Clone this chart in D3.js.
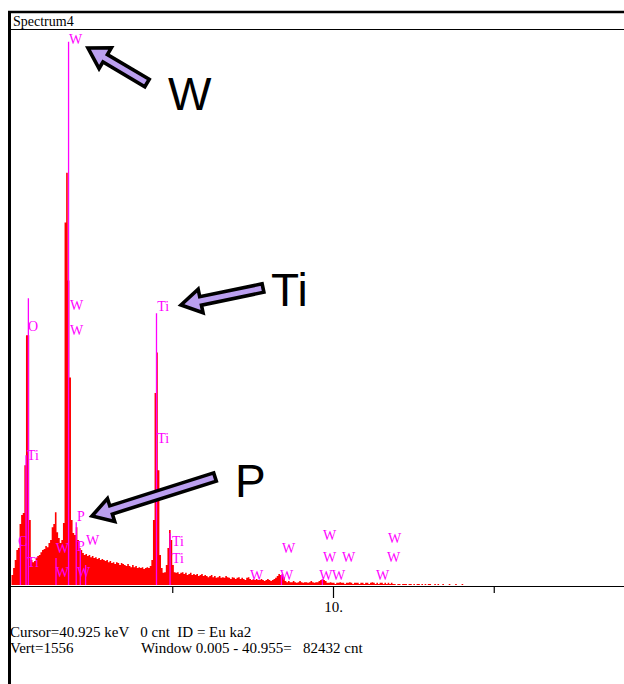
<!DOCTYPE html>
<html>
<head>
<meta charset="utf-8">
<script src="https://cdn.jsdelivr.net/npm/d3@7"></script>
<style>
  body { margin: 0; background: #fff; }
  svg { display: block; }
  .status text { white-space: pre; }
</style>
</head>
<body>
<div id="chart"></div>
<script>
/**
 * Data
 */
const title = "Spectrum4";
const channelWidth = 0.05; // keV per channel
const fullScale = 1556;    // Vert=1556

// counts per 0.05 keV channel, starting at 0 keV
const counts = [
  28, 48, 70, 98, 104, 171, 196, 202, 336, 700,
  700, 182, 70, 64, 67, 76, 81, 84, 92, 98,
  101, 109, 106, 118, 126, 162, 171, 204, 148, 132,
  118, 126, 174, 1016, 1156, 854, 582, 182, 146, 140,
  162, 126, 104, 98, 90, 84, 87, 81, 84, 78,
  81, 76, 78, 73, 76, 70, 73, 70, 67, 70,
  64, 67, 62, 64, 59, 64, 62, 56, 62, 59,
  56, 53, 59, 53, 50, 56, 50, 53, 48, 50,
  48, 50, 45, 48, 50, 48, 53, 70, 182, 538,
  652, 322, 84, 48, 34, 36, 56, 104, 154, 126,
  56, 36, 34, 36, 31, 34, 36, 31, 34, 28,
  31, 34, 28, 31, 28, 31, 25, 28, 31, 25,
  28, 25, 22, 25, 28, 22, 25, 20, 22, 25,
  20, 22, 20, 25, 22, 20, 17, 22, 20, 17,
  20, 22, 17, 20, 17, 14, 20, 22, 17, 14,
  17, 14, 17, 14, 14, 17, 14, 11, 14, 17,
  14, 11, 14, 17, 20, 25, 31, 28, 31, 22,
  11, 8, 11, 8, 8, 11, 8, 6, 8, 11,
  8, 6, 8, 8, 6, 8, 11, 8, 6, 8,
  8, 11, 14, 17, 14, 11, 6, 6, 8, 6,
  6, 3, 6, 6, 8, 6, 6, 3, 6, 6,
  8, 6, 3, 6, 6, 6, 3, 6, 6, 3,
  6, 6, 3, 6, 8, 6, 3, 6, 3, 6,
  6, 3, 6, 3, 6, 3, 6, 3, 3, 0,
  3, 3, 0, 3, 3, 3, 0, 3, 3, 0,
  3, 0, 3, 3, 0, 3, 0, 3, 0, 3,
  3, 0, 0, 3, 0, 3, 0, 0, 3, 0,
  0, 0, 3, 0, 0, 0, 3, 0, 0, 0, 3
];

// KLM marker lines: element, energy (keV), marker height (counts)
const markers = [
  ["C", 0.277, 134],
  ["Ti", 0.452, 364],
  ["O", 0.525, 804],
  ["W", 1.384, 76],
  ["W", 1.775, 1523],
  ["P", 2.013, 176],
  ["P", 2.139, 98],
  ["W", 2.305, 56],
  ["Ti", 4.51, 762],
  ["Ti", 4.932, 146],
  ["W", 8.396, 28],
  ["W", 9.67, 17]
];

// element labels: text, energy (keV), level (counts)
const peakLabels = [
  ["W", 1.79, 1518],
  ["W", 1.82, 770],
  ["W", 1.82, 700],
  ["O", 0.51, 711],
  ["Ti", 4.53, 767],
  ["Ti", 4.53, 398],
  ["Ti", 0.48, 350],
  ["P", 2.04, 179],
  ["W", 2.32, 112],
  ["C", 0.20, 109],
  ["P", 2.04, 95],
  ["W", 1.38, 90],
  ["Ti", 0.48, 50],
  ["W", 1.38, 22],
  ["W", 2.04, 22],
  ["Ti", 4.99, 109],
  ["Ti", 4.99, 62],
  ["W", 7.42, 14],
  ["W", 8.41, 90],
  ["W", 8.35, 14],
  ["W", 9.69, 126],
  ["W", 9.69, 64],
  ["W", 10.28, 64],
  ["W", 9.57, 14],
  ["W", 9.97, 14],
  ["W", 11.34, 14],
  ["W", 11.71, 118],
  ["W", 11.68, 64]
];

const tickValues = [5, 10, 15];
const tickLabels = { 10: "10." };
const cursorLine = "Cursor=40.925 keV   0 cnt  ID = Eu ka2";
const vertText = "Vert=1556";
const windowText = "Window 0.005 - 40.955=   82432 cnt";

// callouts: big label, arrow tail x/y, arrow tip x/y (page pixels)
const callouts = [
  { text: "W", tx: 168, ty: 110, arrow: [147, 83, 88, 48] },
  { text: "Ti", tx: 271, ty: 306, arrow: [263, 288, 181, 305] },
  { text: "P", tx: 235, ty: 497, arrow: [215, 477, 92, 516] }
];

/**
 * Basic settings
 */
const width = 624;
const height = 684;
const serif = "'Liberation Serif', 'Times New Roman', serif";

const svg = d3.select("#chart")
  .append("svg")
  .attr("width", width)
  .attr("height", height)
  .style("background", "#fff");

const x = d3.scaleLinear().domain([0, 20]).range([11.5, 654.5]);
const y = d3.scaleLinear().domain([0, fullScale]).range([585, 30]);

/**
 * Frame + title bar
 */
svg.append("line")
  .attr("x1", 8).attr("x2", width)
  .attr("y1", 12).attr("y2", 12)
  .attr("stroke", "#000").attr("stroke-width", 2.5);

svg.append("line")
  .attr("x1", 9.5).attr("x2", 9.5)
  .attr("y1", 11).attr("y2", height)
  .attr("stroke", "#000").attr("stroke-width", 3);

svg.append("line")
  .attr("x1", 9).attr("x2", width)
  .attr("y1", 29.5).attr("y2", 29.5)
  .attr("stroke", "#000").attr("stroke-width", 1);

svg.append("text")
  .attr("x", 13).attr("y", 26)
  .attr("font-family", serif).attr("font-size", 14)
  .text(title);

/**
 * Spectrum
 */
const spectrum = counts.map((c, i) => ({ e: i * channelWidth, c: c }));
spectrum.push({ e: counts.length * channelWidth, c: 0 });

const area = d3.area()
  .x(d => x(d.e))
  .y0(y(0))
  .y1(d => y(d.c))
  .curve(d3.curveStepAfter);

svg.append("path")
  .datum(spectrum)
  .attr("d", area)
  .attr("fill", "#ff0000")
  .attr("stroke", "none");

/**
 * Element markers
 */
svg.append("g")
  .selectAll("line")
  .data(markers)
  .join("line")
  .attr("x1", d => x(d[1]))
  .attr("x2", d => x(d[1]))
  .attr("y1", y(0))
  .attr("y2", d => y(d[2]))
  .attr("stroke", "#ff00ff")
  .attr("stroke-width", 1.3);

svg.append("g")
  .selectAll("text")
  .data(peakLabels)
  .join("text")
  .attr("x", d => x(d[1]))
  .attr("y", d => y(d[2]))
  .attr("font-family", serif)
  .attr("font-size", 14)
  .attr("fill", "#ff00ff")
  .text(d => d[0]);

/**
 * Axis
 */
const xAxis = d3.axisBottom(x)
  .tickValues(tickValues)
  .tickSize(7)
  .tickSizeOuter(0)
  .tickFormat(d => tickLabels[d] || "");

const gx = svg.append("g")
  .attr("transform", "translate(0,586)")
  .call(xAxis);

gx.select(".domain").attr("d", "M8,0.5H" + width);
gx.selectAll("line").attr("stroke-width", 1.2);
gx.selectAll(".tick").filter(d => d === 10).select("line").attr("y2", 12);
gx.selectAll("text")
  .attr("y", 26).attr("dy", null)
  .attr("font-family", serif).attr("font-size", 15).attr("fill", "#000");

/**
 * Status text
 */
const status = svg.append("g")
  .attr("class", "status")
  .attr("font-family", serif)
  .attr("font-size", 15);

status.append("text").attr("xml:space", "preserve")
  .attr("x", 10).attr("y", 637).text(cursorLine);
status.append("text").attr("xml:space", "preserve")
  .attr("x", 10).attr("y", 653).text(vertText);
status.append("text").attr("xml:space", "preserve")
  .attr("x", 141).attr("y", 653).text(windowText);

/**
 * Callout arrows
 */
function arrowPath(a) {
  const [x1, y1, x2, y2] = a;
  const shaft = 4.3, head = 12, headLen = 20;
  const len = Math.hypot(x2 - x1, y2 - y1);
  const ux = (x2 - x1) / len, uy = (y2 - y1) / len;
  const nx = -uy, ny = ux;
  const bx = x2 - ux * headLen, by = y2 - uy * headLen;
  return d3.line()([
    [x1 + nx * shaft, y1 + ny * shaft],
    [bx + nx * shaft, by + ny * shaft],
    [bx + nx * head, by + ny * head],
    [x2, y2],
    [bx - nx * head, by - ny * head],
    [bx - nx * shaft, by - ny * shaft],
    [x1 - nx * shaft, y1 - ny * shaft]
  ]) + "Z";
}

const notes = svg.append("g");

notes.selectAll("path")
  .data(callouts)
  .join("path")
  .attr("d", d => arrowPath(d.arrow))
  .attr("fill", "#bb9ff0")
  .attr("stroke", "#000")
  .attr("stroke-width", 3.6)
  .attr("stroke-linejoin", "miter");

notes.selectAll("text")
  .data(callouts)
  .join("text")
  .attr("x", d => d.tx)
  .attr("y", d => d.ty)
  .attr("font-family", "'Liberation Sans', Arial, sans-serif")
  .attr("font-size", 46)
  .attr("fill", "#000")
  .text(d => d.text);
</script>
</body>
</html>
